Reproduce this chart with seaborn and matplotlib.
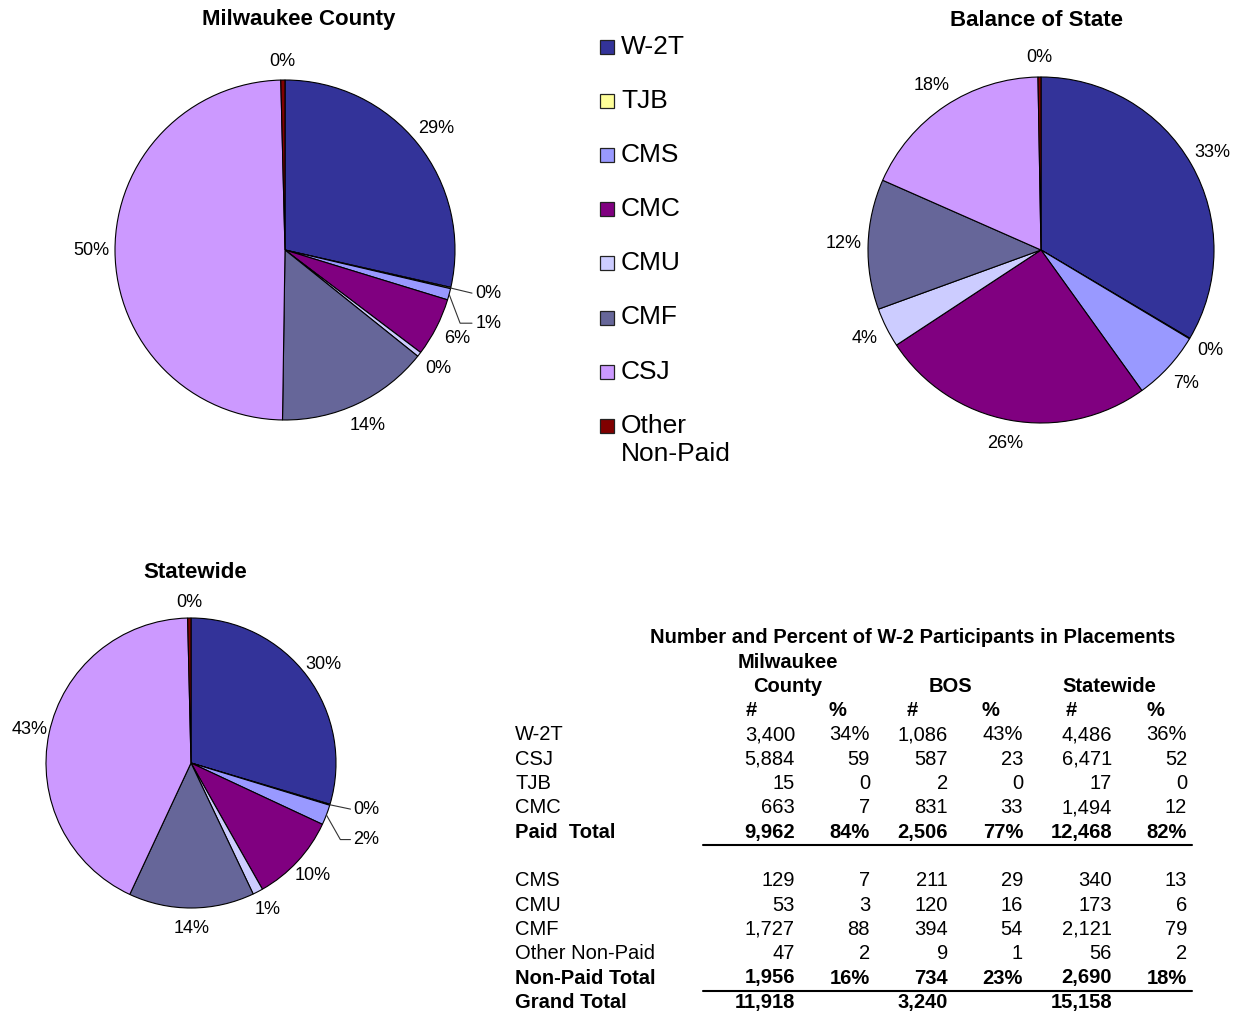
import numpy as np
import matplotlib
matplotlib.use('Agg')
import matplotlib.pyplot as plt
from matplotlib.patches import Rectangle
import seaborn as sns

# categories in pie / legend order
categories = ['W-2T', 'TJB', 'CMS', 'CMC', 'CMU', 'CMF', 'CSJ', 'Other Non-Paid']
legend_labels = ['W-2T', 'TJB', 'CMS', 'CMC', 'CMU', 'CMF', 'CSJ', 'Other\nNon-Paid']
colors = ['#333399', '#FFFF99', '#9999FF', '#800080', '#CCCCFF', '#666699', '#CC99FF', '#800000']

# counts per placement (same order as categories)
milwaukee = [3400, 15, 129, 663, 53, 1727, 5884, 47]
bos = [1086, 2, 211, 831, 120, 394, 587, 9]
statewide = [4486, 17, 340, 1494, 173, 2121, 6471, 56]

# percent labels as printed on the pies
milwaukee_lbl = ['29%', '0%', '1%', '6%', '0%', '14%', '50%', '0%']
bos_lbl = ['33%', '0%', '7%', '26%', '4%', '12%', '18%', '0%']
statewide_lbl = ['30%', '0%', '2%', '10%', '1%', '14%', '43%', '0%']

# table rows
paid_rows = ['W-2T', 'CSJ', 'TJB', 'CMC']
paid_county = [3400, 5884, 15, 663]
paid_bos = [1086, 587, 2, 831]
paid_state = [4486, 6471, 17, 1494]
nonpaid_rows = ['CMS', 'CMU', 'CMF', 'Other Non-Paid']
nonpaid_county = [129, 53, 1727, 47]
nonpaid_bos = [211, 120, 394, 9]
nonpaid_state = [340, 173, 2121, 56]

sns.set_theme(style='white')
plt.rcParams['font.family'] = ['Liberation Sans', 'DejaVu Sans']
plt.rcParams['text.color'] = 'black'

W, H = 1239, 1017
fig = plt.figure(figsize=(W / 100, H / 100), dpi=100)
fig.patch.set_facecolor('white')


def fx(px):
    return px / W


def fy(py):
    return 1 - py / H


def draw_pie(cx, cy, r, values, labels, title, title_xy, leaders=()):
    ax = fig.add_axes([fx(cx - r), fy(cy + r), 2 * r / W, 2 * r / H])
    wedges, _ = ax.pie(values, colors=colors, startangle=90, counterclock=False,
                       wedgeprops=dict(edgecolor='black', linewidth=0.8))
    ax.set_xlim(-1, 1)
    ax.set_ylim(-1, 1)
    ax.set_aspect('auto')
    ax.axis('off')
    drops = [0.03, 0.17]
    k = 0
    for i, w in enumerate(wedges):
        ang = np.deg2rad((w.theta1 + w.theta2) / 2)
        ex, ey = np.cos(ang), np.sin(ang)
        if i in leaders:
            ty = ey - drops[k]
            k += 1
            if abs(ty - ey) > 0.05:
                xs, ys = [ex, 1.03, 1.10], [ey, ty, ty]
            else:
                xs, ys = [ex, 1.10], [ey, ty]
            ax.plot(xs, ys, color='#333333', lw=0.8, clip_on=False)
            ax.text(1.12, ty, labels[i], ha='left', va='center', fontsize=13, clip_on=False)
        else:
            d = 1.14 if ey < 0.9 else 1.11
            ax.text(d * ex, d * ey, labels[i], ha='center', va='center',
                    fontsize=13, clip_on=False)
    fig.text(fx(title_xy[0]), fy(title_xy[1]), title, ha='center', va='center',
             fontsize=16, fontweight='bold')
    return wedges


draw_pie(285, 250, 170, milwaukee, milwaukee_lbl, 'Milwaukee County', (299, 19), leaders=(1, 2))
draw_pie(1041, 250, 173, bos, bos_lbl, 'Balance of State', (1037, 20))
draw_pie(191, 763, 145, statewide, statewide_lbl, 'Statewide', (195, 573), leaders=(1, 2))

# legend: colour square + label, first line aligned with the square
for i, (lab, col) in enumerate(zip(legend_labels, colors)):
    yc = 47 + 54.1 * i
    fig.add_artist(Rectangle((fx(600), fy(yc + 7)), 14 / W, 14 / H, transform=fig.transFigure,
                             facecolor=col, edgecolor='#222222', lw=0.9))
    for j, line in enumerate(lab.split('\n')):
        fig.text(fx(621), fy(yc + 7 + 28 * j), line, ha='left', va='baseline', fontsize=19)

# ---- table ----
fs = 14.5
row0, step = 735, 24.3
label_x = 515
num_right = [795, 948, 1112]
pct_right = [870, 1023, 1187]


def ry(i):
    return fy(row0 + step * i)


fig.text(fx(913), ry(-4), 'Number and Percent of W-2 Participants in Placements',
         ha='center', va='center', fontsize=fs, fontweight='bold')
fig.text(fx(788), ry(-3), 'Milwaukee', ha='center', va='center', fontsize=fs, fontweight='bold')
for x, name in zip([788, 950, 1109], ['County', 'BOS', 'Statewide']):
    fig.text(fx(x), ry(-2), name, ha='center', va='center', fontsize=fs, fontweight='bold')
for x, s in zip([751, 837, 912, 990, 1071, 1155], ['#', '%'] * 3):
    fig.text(fx(x), ry(-1), s, ha='center', va='center', fontsize=fs, fontweight='bold')


def put_row(i, label, nums, pcts, bold=False):
    wt = 'bold' if bold else 'normal'
    fig.text(fx(label_x), ry(i), label, ha='left', va='center', fontsize=fs, fontweight=wt)
    for j, n in enumerate(nums):
        fig.text(fx(num_right[j]), ry(i), f'{n:,}', ha='right', va='center', fontsize=fs, fontweight=wt)
        if pcts is not None:
            fig.text(fx(pct_right[j]), ry(i), pcts[j], ha='right', va='center', fontsize=fs, fontweight=wt)


def block(start, rows, cols, first_pct_sign):
    totals = [sum(c) for c in cols]
    for r, name in enumerate(rows):
        nums = [c[r] for c in cols]
        sign = '%' if (r == 0 and first_pct_sign) else ''
        pcts = [f'{round(100 * n / t)}' + sign for n, t in zip(nums, totals)]
        put_row(start + r, name, nums, pcts)
    return totals


paid_tot = block(0, paid_rows, [paid_county, paid_bos, paid_state], True)
nonpaid_tot = block(6, nonpaid_rows, [nonpaid_county, nonpaid_bos, nonpaid_state], False)
grand = [a + b for a, b in zip(paid_tot, nonpaid_tot)]
put_row(4, 'Paid  Total', paid_tot, [f'{round(100 * a / g)}%' for a, g in zip(paid_tot, grand)], bold=True)
put_row(10, 'Non-Paid Total', nonpaid_tot, [f'{round(100 * a / g)}%' for a, g in zip(nonpaid_tot, grand)], bold=True)
put_row(11, 'Grand Total', grand, None, bold=True)

for i in (4, 10):
    yl = fy(row0 + step * i + 13)
    fig.add_artist(plt.Line2D([fx(703), fx(1192)], [yl, yl], color='black', lw=1.5))

fig.savefig('out.png', dpi=100, facecolor='white')
